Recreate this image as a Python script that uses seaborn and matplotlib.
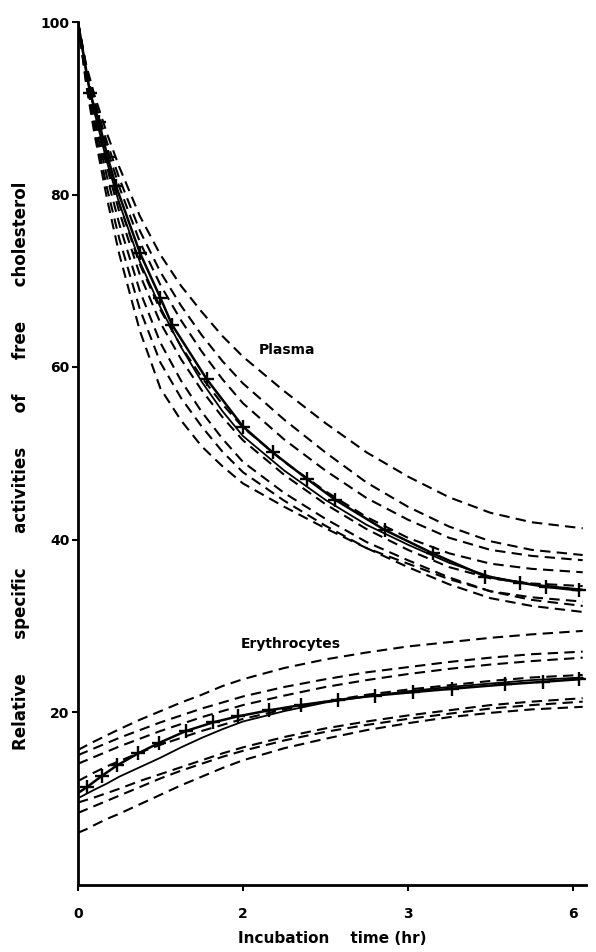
import matplotlib
matplotlib.use("Agg")
import matplotlib.pyplot as plt
import seaborn as sns
import pandas as pd

# ---------------- data ----------------
# time axis in tick units; tick labels as printed in the figure
x_ticks = [0, 1, 2, 3]
x_tick_labels = ["0", "2", "3", "6"]
y_ticks = [20, 40, 60, 80, 100]
y_tick_labels = ["20", "40", "60", "80", "100"]

t_grid = [0, 0.05, 0.1, 0.175, 0.25, 0.375, 0.5, 0.625, 0.75, 0.875, 1.0,
          1.25, 1.5, 1.75, 2.0, 2.25, 2.5, 2.75, 3.06]

# Plasma: individual curves (dashed)
plasma_p1 = [100, 95.0, 91.5, 87.1, 83.2, 77.5, 73.0, 69.4, 66.4, 63.6, 61.2,
             57.2, 53.5, 50.1, 47.3, 44.9, 43.1, 42.0, 41.3]
plasma_p2 = [100, 94.7, 90.9, 86.1, 81.9, 75.8, 71.0, 67.1, 63.7, 60.7, 58.1,
             53.9, 50.1, 46.6, 43.8, 41.5, 39.8, 38.8, 38.2]
plasma_p3 = [100, 94.5, 90.5, 85.4, 80.9, 74.5, 69.5, 65.4, 61.8, 58.6, 55.8,
             51.6, 48.0, 44.8, 42.3, 40.2, 38.8, 38.1, 37.6]
plasma_p4 = [100, 94.0, 89.5, 83.8, 78.9, 71.9, 66.6, 62.4, 58.8, 55.7, 53.0,
             49.0, 45.6, 42.6, 40.2, 38.4, 37.2, 36.6, 36.2]
plasma_p5 = [100, 93.8, 89.2, 83.2, 78.0, 70.7, 65.1, 60.9, 57.3, 54.2, 51.5,
             47.5, 44.1, 41.2, 38.8, 36.8, 35.5, 34.9, 34.6]
plasma_p6 = [100, 93.4, 88.5, 82.1, 76.6, 68.8, 62.8, 58.4, 54.8, 51.7, 49.0,
             45.4, 42.4, 39.7, 37.6, 35.6, 34.0, 33.0, 32.3]
plasma_p7 = [100, 93.0, 87.7, 80.8, 74.9, 66.7, 60.5, 56.4, 53.1, 50.2, 47.8,
             44.5, 41.6, 39.0, 36.8, 34.8, 33.2, 32.3, 31.6]
plasma_p8 = [100, 92.7, 87.0, 79.6, 73.1, 64.2, 57.5, 53.8, 50.8, 48.5, 46.5,
             43.8, 41.3, 39.0, 37.2, 35.4, 34.0, 33.3, 32.8]

# Plasma: mean curve with "+" points
plasma_mean_t = [0, 0.073, 0.127, 0.18, 0.23, 0.376, 0.5, 0.57, 0.78, 1.0,
                 1.18, 1.39, 1.56, 1.86, 2.15, 2.47, 2.68, 2.84, 3.04]
plasma_mean_v = [100, 91.8, 88.4, 84.3, 81.0, 73.2, 68.0, 64.9, 58.6, 53.1,
                 50.1, 47.0, 44.6, 41.1, 38.4, 35.7, 35.0, 34.5, 34.1]
# Plasma: second solid curve
plasma_fit = [100, 94.0, 89.5, 83.8, 79.0, 72.2, 66.9, 62.3, 58.3, 54.9, 52.0,
              48.0, 44.6, 41.7, 39.4, 37.3, 35.7, 34.8, 34.2]

# Erythrocytes: individual curves (dashed)
ery_e1 = [15.6, 16.1, 16.6, 17.3, 18.0, 19.1, 20.1, 21.1, 22.0, 23.0, 23.8,
          25.1, 26.1, 26.9, 27.6, 28.1, 28.6, 29.0, 29.4]
ery_e2 = [15.0, 15.4, 15.8, 16.4, 17.0, 17.9, 18.8, 19.6, 20.4, 21.1, 21.8,
          22.9, 23.8, 24.6, 25.2, 25.8, 26.3, 26.7, 27.0]
ery_e3 = [14.0, 14.4, 14.8, 15.4, 16.0, 16.9, 17.8, 18.6, 19.4, 20.1, 20.8,
          21.9, 22.9, 23.7, 24.4, 25.0, 25.5, 25.9, 26.3]
ery_e4 = [12.0, 12.5, 13.0, 13.7, 14.3, 15.3, 16.2, 17.0, 17.8, 18.5, 19.2,
          20.3, 21.2, 22.0, 22.6, 23.1, 23.6, 24.0, 24.3]
ery_e5 = [9.5, 9.8, 10.1, 10.6, 11.1, 12.0, 12.8, 13.6, 14.4, 15.2, 15.9,
          17.1, 18.1, 18.9, 19.6, 20.2, 20.8, 21.2, 21.6]
ery_e6 = [8.3, 8.7, 9.1, 9.7, 10.3, 11.3, 12.3, 13.2, 14.0, 14.8, 15.5,
          16.7, 17.7, 18.5, 19.2, 19.8, 20.4, 20.8, 21.2]
ery_e7 = [6.0, 6.4, 6.9, 7.6, 8.2, 9.3, 10.4, 11.5, 12.5, 13.5, 14.4,
          15.8, 16.9, 17.9, 18.7, 19.4, 19.9, 20.3, 20.6]

# Erythrocytes: mean curve with "+" points
ery_mean_t = [0, 0.055, 0.145, 0.236, 0.364, 0.49, 0.655, 0.82, 0.97, 1.16,
              1.35, 1.576, 1.8, 2.03, 2.27, 2.59, 2.82, 3.04]
ery_mean_v = [10.6, 11.3, 12.6, 13.8, 15.2, 16.4, 17.8, 18.8, 19.5, 20.2,
              20.8, 21.4, 21.9, 22.3, 22.7, 23.2, 23.5, 23.8]
# Erythrocytes: second solid curve
ery_fit = [10.0, 10.5, 11.0, 11.7, 12.5, 13.6, 14.7, 15.9, 17.0, 18.0, 18.9,
           20.1, 21.1, 21.8, 22.4, 22.9, 23.3, 23.7, 24.0]

plasma_dashed = [plasma_p1, plasma_p2, plasma_p3, plasma_p4,
                 plasma_p5, plasma_p6, plasma_p7, plasma_p8]
ery_dashed = [ery_e1, ery_e2, ery_e3, ery_e4, ery_e5, ery_e6, ery_e7]

# ---------------- figure ----------------
sns.set_style("ticks")
plt.rcParams["font.family"] = ["DejaVu Sans"]
plt.rcParams["text.color"] = "black"
plt.rcParams["axes.labelcolor"] = "black"
plt.rcParams["xtick.color"] = "black"
plt.rcParams["ytick.color"] = "black"

W, H = 596, 952
fig = plt.figure(figsize=(W / 100, H / 100), dpi=100)
ax = fig.add_axes([78 / W, 1 - 884.5 / H, 508 / W, 862.5 / H])

dash_style = (0, (5, 3))
for curve in plasma_dashed + ery_dashed:
    sns.lineplot(x=t_grid, y=curve, ax=ax, color="black", lw=1.5,
                 linestyle=dash_style, sort=False, errorbar=None)

sns.lineplot(x=t_grid, y=plasma_fit, ax=ax, color="black", lw=1.3,
             sort=False, errorbar=None)
sns.lineplot(x=t_grid, y=ery_fit, ax=ax, color="black", lw=1.3,
             sort=False, errorbar=None)

for tt, vv in ((plasma_mean_t, plasma_mean_v), (ery_mean_t, ery_mean_v)):
    sns.lineplot(x=tt, y=vv, ax=ax, color="black", lw=1.8,
                 sort=False, errorbar=None)
    sns.scatterplot(x=tt[1:], y=vv[1:], ax=ax, color="black", marker="+",
                    s=110, linewidth=1.7, zorder=5)

ax.set_xlim(0, 3.08)
ax.set_ylim(0, 100)
sns.despine(ax=ax)
for s in ("left", "bottom"):
    ax.spines[s].set_linewidth(2.0)
    ax.spines[s].set_color("black")

ax.set_xticks(x_ticks)
ax.set_xticklabels(x_tick_labels, fontsize=10, fontweight="bold",
                   color="black")
ax.set_yticks(y_ticks)
ax.set_yticklabels(y_tick_labels, fontsize=10, fontweight="bold",
                   color="black")
ax.tick_params(axis="both", direction="out", length=4, width=1.5,
               color="black", labelcolor="black")
ax.tick_params(axis="y", pad=2)
ax.tick_params(axis="x", pad=12)

ax.set_xlabel("Incubation    time (hr)", fontsize=11, fontweight="bold",
              color="black")
ax.xaxis.set_label_coords(0.5, -0.054)
ax.set_ylabel("Relative      specific      activities      of      "
              "free      cholesterol",
              fontsize=12, fontweight="bold", color="black")
ax.yaxis.set_label_coords(-0.094, 0.486)

ax.text(1.27, 62.0, "Plasma", fontsize=10, fontweight="bold",
        ha="center", va="center", color="black")
ax.text(1.29, 27.9, "Erythrocytes", fontsize=10, fontweight="bold",
        ha="center", va="center", color="black")

fig.savefig("out.png", dpi=100, facecolor="white")
